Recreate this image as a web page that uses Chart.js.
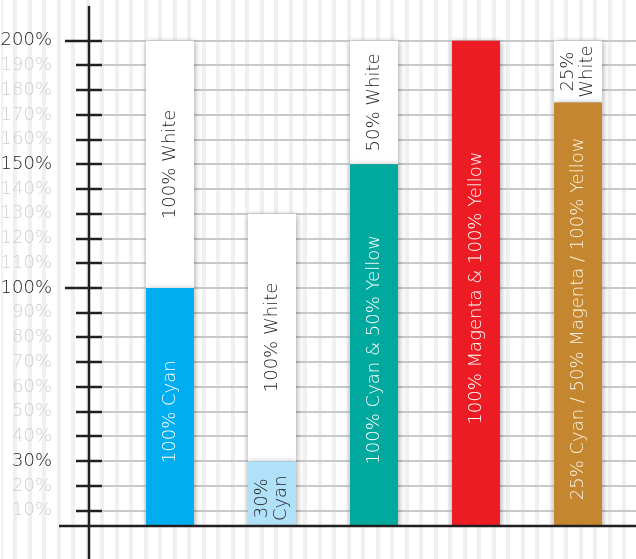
<!DOCTYPE html>
<html>
<head>
<meta charset="utf-8">
<script src="https://cdn.jsdelivr.net/npm/chart.js@4/dist/chart.umd.min.js"></script>
<style>
  html, body { margin: 0; padding: 0; }
  body {
    width: 636px; height: 559px; overflow: hidden;
    background: #fff repeating-linear-gradient(90deg, #fff 0, #fff 10.5px, #eff0f3 10.5px, #eff0f3 14.5px);
    background-position: 3px 0;
  }
  #wrap { position: relative; width: 636px; height: 559px; }
</style>
</head>
<body>
<div id="wrap"><canvas id="chart"></canvas></div>
<script>
// bars: coloured ink part + white part stacked on top
const categories = ['Cyan', 'Light cyan', 'Green', 'Red', 'Brown'];
const inkValues = [100, 30, 150, 200, 175];
const whiteValues = [100, 100, 50, 0, 25];
const inkLabels = [['100% Cyan'], ['30%', 'Cyan'], ['100% Cyan & 50% Yellow'], ['100% Magenta & 100% Yellow'], ['25% Cyan / 50% Magenta / 100% Yellow']];
const whiteLabels = [['100% White'], ['100% White'], ['50% White'], [], ['25%', 'White']];
const inkColors = ['#00aeef', '#b0e1f8', '#00a99d', '#ed1c24', '#c4872f'];
const inkTextColors = ['#ffffff', '#231f20', '#ffffff', '#ffffff', '#fbf3e6'];
const tickValues = [10, 20, 30, 40, 50, 60, 70, 80, 90, 100, 110, 120, 130, 140, 150, 160, 170, 180, 190, 200];
const darkTicks = [30, 100, 150, 200];
const longTicks = [100, 200];

const FONT = '"DejaVu Sans", sans-serif';
const INK = '#231f20';

const decor = {
    id: 'decor',
    beforeDatasetsDraw(chart) {
        const { ctx, chartArea } = chart;
        const y = chart.scales.y;
        const axisX = chartArea.left - 30;
        ctx.save();
        ctx.strokeStyle = '#c8c9cb';
        ctx.lineWidth = 2;
        tickValues.forEach(v => {
            const py = Math.round(y.getPixelForValue(v));
            ctx.beginPath();
            ctx.moveTo(axisX, py);
            ctx.lineTo(chart.width, py);
            ctx.stroke();
        });
        ctx.restore();
        // soft shadow under the bars
        ctx.save();
        ctx.shadowColor = 'rgba(0,0,0,0.35)';
        ctx.shadowBlur = 6;
        ctx.shadowOffsetX = 1;
        ctx.shadowOffsetY = 1;
    },
    afterDatasetsDraw(chart) {
        const { ctx, chartArea } = chart;
        ctx.restore();
        const y = chart.scales.y;

        // labels inside the bar segments, rotated
        ctx.save();
        ctx.font = '200 18px ' + FONT;
        ctx.textAlign = 'center';
        ctx.textBaseline = 'middle';
        [inkLabels, whiteLabels].forEach((labels, di) => {
            chart.getDatasetMeta(di).data.forEach((bar, i) => {
                const lines = labels[i];
                if (!lines.length) return;
                const p = bar.getProps(['x', 'y', 'base'], true);
                ctx.save();
                ctx.translate(p.x, (p.y + p.base) / 2);
                ctx.rotate(-Math.PI / 2);
                ctx.fillStyle = di === 0 ? inkTextColors[i] : INK;
                lines.forEach((t, li) => {
                    ctx.fillText(t, 0, (li - (lines.length - 1) / 2) * 19);
                });
                ctx.restore();
            });
        });
        ctx.restore();

        // axes and tick marks
        const axisX = chartArea.left - 30;
        ctx.save();
        ctx.strokeStyle = INK;
        ctx.lineWidth = 2.5;
        ctx.beginPath();
        ctx.moveTo(axisX, chartArea.top);
        ctx.lineTo(axisX, chart.height);
        ctx.moveTo(axisX - 30, chartArea.bottom);
        ctx.lineTo(chart.width, chartArea.bottom);
        ctx.stroke();
        tickValues.forEach(v => {
            const py = Math.round(y.getPixelForValue(v));
            ctx.beginPath();
            ctx.moveTo(axisX - (longTicks.includes(v) ? 24 : 13), py);
            ctx.lineTo(axisX + 13, py);
            ctx.stroke();
        });
        ctx.restore();
    }
};

new Chart(document.getElementById('chart'), {
    type: 'bar',
    data: {
        labels: categories,
        datasets: [
            { label: 'Ink', data: inkValues, backgroundColor: inkColors, borderWidth: 0 },
            { label: 'White', data: whiteValues, backgroundColor: '#ffffff', borderWidth: 0 }
        ]
    },
    options: {
        responsive: true,
        maintainAspectRatio: false,
        animation: false,
        layout: { padding: { top: 6, right: 7, bottom: 33, left: 0 } },
        datasets: { bar: { categoryPercentage: 1, barPercentage: 0.47 } },
        plugins: { legend: { display: false }, tooltip: { enabled: false } },
        scales: {
            x: { stacked: true, display: false },
            y: {
                stacked: true,
                min: 3.8,
                max: 214,
                grid: { display: false },
                border: { display: false },
                afterBuildTicks: s => { s.ticks = tickValues.map(v => ({ value: v })); },
                afterFit: s => { s.width = 119; s.paddingTop = 0; s.paddingBottom = 0; },
                ticks: {
                    padding: 59,
                    font: { family: FONT, size: 18, weight: 200 },
                    color: c => darkTicks.includes(c.tick.value) ? INK : '#cfcfd0',
                    callback: v => v + '%'
                }
            }
        }
    },
    plugins: [decor]
});
</script>
</body>
</html>
